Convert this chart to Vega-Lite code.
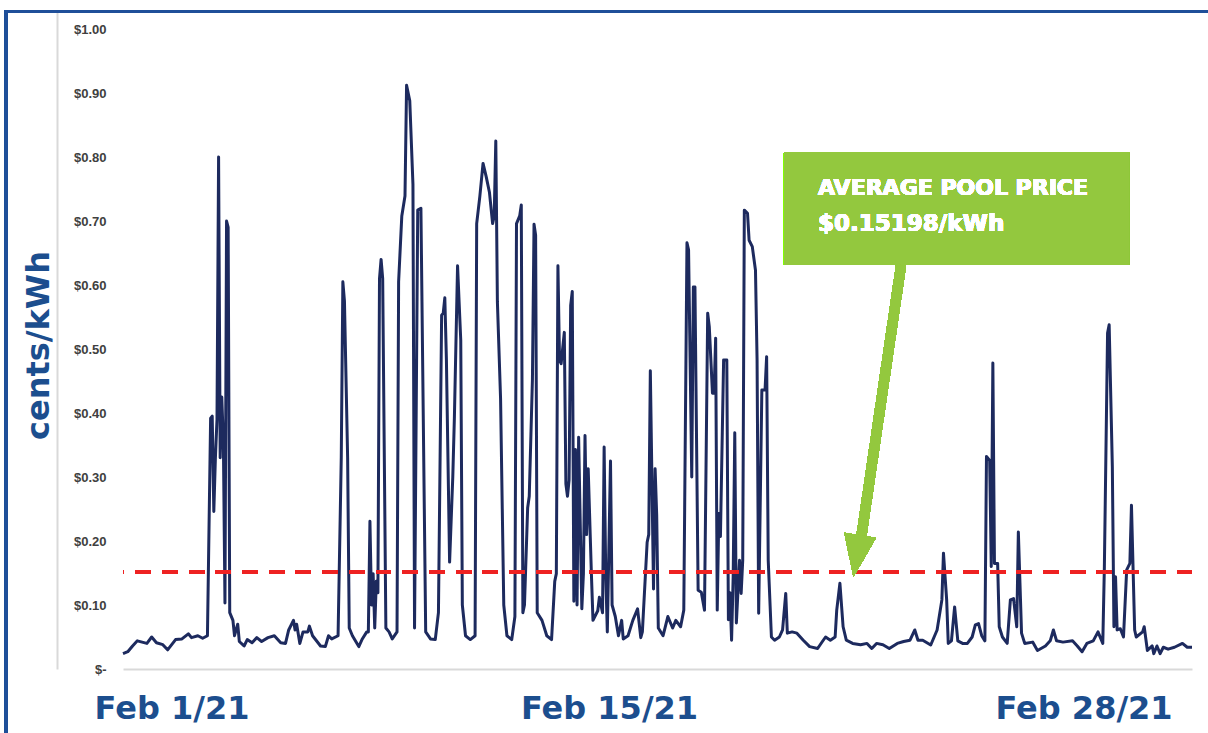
{
  "$schema": "https://vega.github.io/schema/vega-lite/v6.json",
  "width": 1069,
  "height": 657,
  "autosize": {"type": "none"},
  "padding": {"left": 123, "top": 12, "right": 16, "bottom": 64},
  "background": "white",
  "config": {"view": {"stroke": null}, "axis": {"grid": false}},
  "data": {"values": [
    {"t":"2021-02-01T00:00","p":0.024},{"t":"2021-02-01T03:00","p":0.027},{"t":"2021-02-01T06:00","p":0.036},{"t":"2021-02-01T09:00","p":0.044},
    {"t":"2021-02-01T15:00","p":0.040},{"t":"2021-02-01T18:00","p":0.050},{"t":"2021-02-01T21:00","p":0.041},{"t":"2021-02-02T01:00","p":0.038},
    {"t":"2021-02-02T04:00","p":0.030},{"t":"2021-02-02T09:00","p":0.046},{"t":"2021-02-02T13:00","p":0.047},{"t":"2021-02-02T17:00","p":0.055},
    {"t":"2021-02-02T19:00","p":0.049},{"t":"2021-02-02T23:00","p":0.052},{"t":"2021-02-03T02:00","p":0.048},{"t":"2021-02-03T05:00","p":0.052},
    {"t":"2021-02-03T07:00","p":0.392},{"t":"2021-02-03T08:00","p":0.395},{"t":"2021-02-03T09:00","p":0.246},{"t":"2021-02-03T10:00","p":0.33},
    {"t":"2021-02-03T11:00","p":0.39},{"t":"2021-02-03T12:00","p":0.80},{"t":"2021-02-03T13:00","p":0.33},{"t":"2021-02-03T14:00","p":0.425},
    {"t":"2021-02-03T15:00","p":0.355},{"t":"2021-02-03T16:00","p":0.103},{"t":"2021-02-03T17:00","p":0.70},{"t":"2021-02-03T18:00","p":0.69},
    {"t":"2021-02-03T19:00","p":0.088},{"t":"2021-02-03T21:00","p":0.076},{"t":"2021-02-03T22:00","p":0.052},{"t":"2021-02-04T00:00","p":0.07},
    {"t":"2021-02-04T01:00","p":0.043},{"t":"2021-02-04T04:00","p":0.036},{"t":"2021-02-04T06:00","p":0.046},{"t":"2021-02-04T09:00","p":0.041},
    {"t":"2021-02-04T12:00","p":0.049},{"t":"2021-02-04T15:00","p":0.043},{"t":"2021-02-04T19:00","p":0.049},{"t":"2021-02-04T23:00","p":0.052},
    {"t":"2021-02-05T03:00","p":0.041},{"t":"2021-02-05T06:00","p":0.040},{"t":"2021-02-05T08:00","p":0.061},{"t":"2021-02-05T11:00","p":0.076},
    {"t":"2021-02-05T12:00","p":0.061},{"t":"2021-02-05T13:00","p":0.070},{"t":"2021-02-05T15:00","p":0.040},{"t":"2021-02-05T17:00","p":0.058},
    {"t":"2021-02-05T20:00","p":0.058},{"t":"2021-02-05T21:00","p":0.067},{"t":"2021-02-05T23:00","p":0.052},{"t":"2021-02-06T04:00","p":0.036},
    {"t":"2021-02-06T07:00","p":0.035},{"t":"2021-02-06T09:00","p":0.052},{"t":"2021-02-06T11:00","p":0.047},{"t":"2021-02-06T15:00","p":0.052},
    {"t":"2021-02-06T17:00","p":0.33},{"t":"2021-02-06T18:00","p":0.605},{"t":"2021-02-06T19:00","p":0.575},{"t":"2021-02-06T21:00","p":0.33},
    {"t":"2021-02-06T22:00","p":0.064},{"t":"2021-02-07T00:00","p":0.052},{"t":"2021-02-07T04:00","p":0.035},{"t":"2021-02-07T06:00","p":0.046},
    {"t":"2021-02-07T09:00","p":0.058},{"t":"2021-02-07T10:00","p":0.058},{"t":"2021-02-07T11:00","p":0.231},{"t":"2021-02-07T12:00","p":0.10},
    {"t":"2021-02-07T13:00","p":0.149},{"t":"2021-02-07T14:00","p":0.064},{"t":"2021-02-07T15:00","p":0.137},{"t":"2021-02-07T16:00","p":0.119},
    {"t":"2021-02-07T17:00","p":0.61},{"t":"2021-02-07T18:00","p":0.64},{"t":"2021-02-07T19:00","p":0.61},{"t":"2021-02-07T21:00","p":0.064},
    {"t":"2021-02-07T23:00","p":0.058},{"t":"2021-02-08T01:00","p":0.047},{"t":"2021-02-08T04:00","p":0.058},{"t":"2021-02-08T05:00","p":0.605},
    {"t":"2021-02-08T07:00","p":0.708},{"t":"2021-02-08T09:00","p":0.739},{"t":"2021-02-08T10:00","p":0.912},{"t":"2021-02-08T12:00","p":0.888},
    {"t":"2021-02-08T14:00","p":0.757},{"t":"2021-02-08T15:00","p":0.064},{"t":"2021-02-08T17:00","p":0.717},{"t":"2021-02-08T19:00","p":0.72},
    {"t":"2021-02-08T22:00","p":0.058},{"t":"2021-02-09T01:00","p":0.047},{"t":"2021-02-09T04:00","p":0.046},{"t":"2021-02-09T06:00","p":0.088},
    {"t":"2021-02-09T08:00","p":0.553},{"t":"2021-02-09T09:00","p":0.556},{"t":"2021-02-09T10:00","p":0.58},{"t":"2021-02-09T11:00","p":0.483},
    {"t":"2021-02-09T13:00","p":0.167},{"t":"2021-02-09T15:00","p":0.30},{"t":"2021-02-09T16:00","p":0.392},{"t":"2021-02-09T18:00","p":0.63},
    {"t":"2021-02-09T20:00","p":0.514},{"t":"2021-02-09T21:00","p":0.10},{"t":"2021-02-09T23:00","p":0.052},{"t":"2021-02-10T02:00","p":0.046},
    {"t":"2021-02-10T05:00","p":0.052},{"t":"2021-02-10T06:00","p":0.696},{"t":"2021-02-10T08:00","p":0.739},{"t":"2021-02-10T10:00","p":0.79},
    {"t":"2021-02-10T12:00","p":0.769},{"t":"2021-02-10T14:00","p":0.745},{"t":"2021-02-10T16:00","p":0.696},{"t":"2021-02-10T17:00","p":0.708},
    {"t":"2021-02-10T18:00","p":0.825},{"t":"2021-02-10T19:00","p":0.574},{"t":"2021-02-10T21:00","p":0.422},{"t":"2021-02-10T23:00","p":0.10},
    {"t":"2021-02-11T01:00","p":0.052},{"t":"2021-02-11T04:00","p":0.046},{"t":"2021-02-11T06:00","p":0.082},{"t":"2021-02-11T07:00","p":0.696},
    {"t":"2021-02-11T09:00","p":0.708},{"t":"2021-02-11T10:00","p":0.725},{"t":"2021-02-11T11:00","p":0.088},{"t":"2021-02-11T12:00","p":0.10},
    {"t":"2021-02-11T14:00","p":0.252},{"t":"2021-02-11T15:00","p":0.27},{"t":"2021-02-11T17:00","p":0.453},{"t":"2021-02-11T18:00","p":0.695},
    {"t":"2021-02-11T19:00","p":0.678},{"t":"2021-02-11T20:00","p":0.088},{"t":"2021-02-11T23:00","p":0.076},{"t":"2021-02-12T02:00","p":0.052},
    {"t":"2021-02-12T05:00","p":0.046},{"t":"2021-02-12T07:00","p":0.137},{"t":"2021-02-12T08:00","p":0.149},{"t":"2021-02-12T09:00","p":0.63},
    {"t":"2021-02-12T10:00","p":0.483},{"t":"2021-02-12T11:00","p":0.477},{"t":"2021-02-12T13:00","p":0.526},{"t":"2021-02-12T14:00","p":0.289},
    {"t":"2021-02-12T15:00","p":0.27},{"t":"2021-02-12T16:00","p":0.295},{"t":"2021-02-12T17:00","p":0.568},{"t":"2021-02-12T18:00","p":0.59},
    {"t":"2021-02-12T19:00","p":0.106},{"t":"2021-02-12T20:00","p":0.343},{"t":"2021-02-12T21:00","p":0.10},{"t":"2021-02-12T22:00","p":0.362},
    {"t":"2021-02-13T00:00","p":0.094},{"t":"2021-02-13T01:00","p":0.149},{"t":"2021-02-13T02:00","p":0.365},{"t":"2021-02-13T03:00","p":0.21},
    {"t":"2021-02-13T04:00","p":0.313},{"t":"2021-02-13T06:00","p":0.149},{"t":"2021-02-13T07:00","p":0.076},{"t":"2021-02-13T10:00","p":0.091},
    {"t":"2021-02-13T11:00","p":0.112},{"t":"2021-02-13T13:00","p":0.088},{"t":"2021-02-13T14:00","p":0.347},{"t":"2021-02-13T15:00","p":0.149},
    {"t":"2021-02-13T16:00","p":0.058},{"t":"2021-02-13T18:00","p":0.325},{"t":"2021-02-13T19:00","p":0.10},{"t":"2021-02-13T21:00","p":0.082},
    {"t":"2021-02-13T23:00","p":0.052},{"t":"2021-02-14T01:00","p":0.076},{"t":"2021-02-14T02:00","p":0.047},{"t":"2021-02-14T05:00","p":0.052},
    {"t":"2021-02-14T08:00","p":0.076},{"t":"2021-02-14T11:00","p":0.094},{"t":"2021-02-14T13:00","p":0.049},{"t":"2021-02-14T14:00","p":0.058},
    {"t":"2021-02-14T17:00","p":0.198},{"t":"2021-02-14T18:00","p":0.21},{"t":"2021-02-14T19:00","p":0.466},{"t":"2021-02-14T21:00","p":0.125},
    {"t":"2021-02-14T22:00","p":0.313},{"t":"2021-02-14T23:00","p":0.24},{"t":"2021-02-15T00:00","p":0.064},{"t":"2021-02-15T03:00","p":0.052},
    {"t":"2021-02-15T06:00","p":0.082},{"t":"2021-02-15T09:00","p":0.064},{"t":"2021-02-15T11:00","p":0.076},{"t":"2021-02-15T14:00","p":0.066},
    {"t":"2021-02-15T16:00","p":0.092},{"t":"2021-02-15T18:00","p":0.666},{"t":"2021-02-15T19:00","p":0.655},{"t":"2021-02-15T21:00","p":0.30},
    {"t":"2021-02-15T22:00","p":0.597},{"t":"2021-02-15T23:00","p":0.597},{"t":"2021-02-16T01:00","p":0.123},{"t":"2021-02-16T03:00","p":0.12},
    {"t":"2021-02-16T05:00","p":0.092},{"t":"2021-02-16T07:00","p":0.556},{"t":"2021-02-16T08:00","p":0.535},{"t":"2021-02-16T10:00","p":0.431},
    {"t":"2021-02-16T11:00","p":0.431},{"t":"2021-02-16T12:00","p":0.517},{"t":"2021-02-16T13:00","p":0.092},{"t":"2021-02-16T14:00","p":0.243},
    {"t":"2021-02-16T15:00","p":0.207},{"t":"2021-02-16T17:00","p":0.483},{"t":"2021-02-16T19:00","p":0.483},{"t":"2021-02-16T20:00","p":0.077},
    {"t":"2021-02-16T21:00","p":0.119},{"t":"2021-02-16T22:00","p":0.045},{"t":"2021-02-16T23:00","p":0.144},{"t":"2021-02-17T00:00","p":0.369},
    {"t":"2021-02-17T01:00","p":0.072},{"t":"2021-02-17T03:00","p":0.17},{"t":"2021-02-17T04:00","p":0.118},{"t":"2021-02-17T05:00","p":0.17},
    {"t":"2021-02-17T06:00","p":0.717},{"t":"2021-02-17T08:00","p":0.712},{"t":"2021-02-17T09:00","p":0.67},{"t":"2021-02-17T11:00","p":0.66},
    {"t":"2021-02-17T13:00","p":0.623},{"t":"2021-02-17T14:00","p":0.483},{"t":"2021-02-17T15:00","p":0.087},{"t":"2021-02-17T17:00","p":0.436},
    {"t":"2021-02-17T19:00","p":0.436},{"t":"2021-02-17T20:00","p":0.488},{"t":"2021-02-17T21:00","p":0.17},{"t":"2021-02-17T23:00","p":0.05},
    {"t":"2021-02-18T01:00","p":0.045},{"t":"2021-02-18T04:00","p":0.05},{"t":"2021-02-18T06:00","p":0.061},{"t":"2021-02-18T08:00","p":0.118},
    {"t":"2021-02-18T09:00","p":0.056},{"t":"2021-02-18T12:00","p":0.058},{"t":"2021-02-18T15:00","p":0.056},{"t":"2021-02-18T19:00","p":0.045},
    {"t":"2021-02-18T23:00","p":0.035},{"t":"2021-02-19T04:00","p":0.032},{"t":"2021-02-19T07:00","p":0.043},{"t":"2021-02-19T09:00","p":0.05},
    {"t":"2021-02-19T12:00","p":0.045},{"t":"2021-02-19T15:00","p":0.05},{"t":"2021-02-19T16:00","p":0.092},{"t":"2021-02-19T18:00","p":0.134},
    {"t":"2021-02-19T20:00","p":0.066},{"t":"2021-02-19T22:00","p":0.045},{"t":"2021-02-20T02:00","p":0.04},{"t":"2021-02-20T07:00","p":0.038},
    {"t":"2021-02-20T11:00","p":0.04},{"t":"2021-02-20T14:00","p":0.032},{"t":"2021-02-20T17:00","p":0.04},{"t":"2021-02-20T21:00","p":0.038},
    {"t":"2021-02-21T01:00","p":0.032},{"t":"2021-02-21T06:00","p":0.04},{"t":"2021-02-21T10:00","p":0.043},{"t":"2021-02-21T14:00","p":0.045},
    {"t":"2021-02-21T17:00","p":0.061},{"t":"2021-02-21T19:00","p":0.045},{"t":"2021-02-21T22:00","p":0.045},{"t":"2021-02-22T03:00","p":0.0375},
    {"t":"2021-02-22T07:00","p":0.061},{"t":"2021-02-22T10:00","p":0.108},{"t":"2021-02-22T11:00","p":0.181},{"t":"2021-02-22T13:00","p":0.108},
    {"t":"2021-02-22T14:00","p":0.04},{"t":"2021-02-22T16:00","p":0.044},{"t":"2021-02-22T18:00","p":0.097},{"t":"2021-02-22T20:00","p":0.044},
    {"t":"2021-02-22T23:00","p":0.04},{"t":"2021-02-23T02:00","p":0.04},{"t":"2021-02-23T05:00","p":0.05},{"t":"2021-02-23T07:00","p":0.069},
    {"t":"2021-02-23T09:00","p":0.071},{"t":"2021-02-23T11:00","p":0.052},{"t":"2021-02-23T13:00","p":0.044},{"t":"2021-02-23T14:00","p":0.332},
    {"t":"2021-02-23T16:00","p":0.326},{"t":"2021-02-23T17:00","p":0.16},{"t":"2021-02-23T18:00","p":0.478},{"t":"2021-02-23T19:00","p":0.165},
    {"t":"2021-02-23T21:00","p":0.165},{"t":"2021-02-23T22:00","p":0.066},{"t":"2021-02-24T00:00","p":0.05},{"t":"2021-02-24T03:00","p":0.04},
    {"t":"2021-02-24T05:00","p":0.108},{"t":"2021-02-24T07:00","p":0.11},{"t":"2021-02-24T09:00","p":0.066},{"t":"2021-02-24T10:00","p":0.214},
    {"t":"2021-02-24T12:00","p":0.056},{"t":"2021-02-24T14:00","p":0.04},{"t":"2021-02-24T19:00","p":0.042},{"t":"2021-02-24T22:00","p":0.029},
    {"t":"2021-02-25T03:00","p":0.036},{"t":"2021-02-25T06:00","p":0.044},{"t":"2021-02-25T08:00","p":0.061},{"t":"2021-02-25T10:00","p":0.044},
    {"t":"2021-02-25T14:00","p":0.042},{"t":"2021-02-25T20:00","p":0.044},{"t":"2021-02-25T23:00","p":0.036},{"t":"2021-02-26T02:00","p":0.027},
    {"t":"2021-02-26T05:00","p":0.04},{"t":"2021-02-26T09:00","p":0.044},{"t":"2021-02-26T12:00","p":0.058},{"t":"2021-02-26T15:00","p":0.04},
    {"t":"2021-02-26T16:00","p":0.16},{"t":"2021-02-26T18:00","p":0.525},{"t":"2021-02-26T19:00","p":0.538},{"t":"2021-02-26T21:00","p":0.316},
    {"t":"2021-02-26T22:00","p":0.066},{"t":"2021-02-26T23:00","p":0.144},{"t":"2021-02-27T00:00","p":0.061},{"t":"2021-02-27T02:00","p":0.063},
    {"t":"2021-02-27T04:00","p":0.05},{"t":"2021-02-27T06:00","p":0.155},{"t":"2021-02-27T08:00","p":0.165},{"t":"2021-02-27T09:00","p":0.256},
    {"t":"2021-02-27T11:00","p":0.061},{"t":"2021-02-27T12:00","p":0.05},{"t":"2021-02-27T16:00","p":0.058},{"t":"2021-02-27T17:00","p":0.066},
    {"t":"2021-02-27T19:00","p":0.029},{"t":"2021-02-27T22:00","p":0.036},{"t":"2021-02-27T23:00","p":0.024},{"t":"2021-02-28T01:00","p":0.036},
    {"t":"2021-02-28T03:00","p":0.024},{"t":"2021-02-28T05:00","p":0.034},{"t":"2021-02-28T08:00","p":0.031},{"t":"2021-02-28T12:00","p":0.034},
    {"t":"2021-02-28T17:00","p":0.04},{"t":"2021-02-28T20:00","p":0.034},{"t":"2021-02-28T23:00","p":0.034}
  ]},
  "layer": [
    {
      "mark": {"type": "line", "color": "#1d2a5e", "strokeWidth": 3, "strokeJoin": "round"},
      "encoding": {
        "x": {
          "field": "t", "type": "temporal",
          "scale": {"domain": [{"year": 2021, "month": 2, "date": 1, "hours": 0}, {"year": 2021, "month": 2, "date": 28, "hours": 23}], "nice": false},
          "axis": {
            "title": null,
            "values": [
              {"year": 2021, "month": 2, "date": 2, "hours": 6, "minutes": 27},
              {"year": 2021, "month": 2, "date": 13, "hours": 17, "minutes": 6},
              {"year": 2021, "month": 2, "date": 26, "hours": 2, "minutes": 57}
            ],
            "labelExpr": "date(datum.value) == 2 ? 'Feb 1/21' : date(datum.value) == 13 ? 'Feb 15/21' : 'Feb 28/21'",
            "domain": true, "domainColor": "#d9d9d9", "domainWidth": 2,
            "ticks": false, "tickSize": 0, "grid": false,
            "labelFont": "DejaVu Sans", "labelFontWeight": "bold", "labelFontSize": 32, "labelColor": "#1c4e8e",
            "labelPadding": 24, "labelFlush": false, "labelOverlap": false, "labelBound": false
          }
        },
        "y": {
          "field": "p", "type": "quantitative",
          "scale": {"domain": [0, 1.0266], "nice": false, "zero": true},
          "axis": {
            "title": "cents/kWh",
            "offset": 66,
            "values": [0, 0.1, 0.2, 0.3, 0.4, 0.5, 0.6, 0.7, 0.8, 0.9, 1.0],
            "labelExpr": "datum.value == 0 ? '$-' : '$' + format(datum.value, '.2f')",
            "domain": true, "domainColor": "#d9d9d9", "domainWidth": 2,
            "ticks": false, "tickSize": 0, "grid": false,
            "labelFont": "Liberation Sans", "labelFontWeight": "bold", "labelFontSize": 13, "labelColor": "#404040",
            "labelAlign": "right", "labelBaseline": "middle", "labelPadding": -49, "labelOverlap": false, "labelFlush": false, "labelBound": false,
            "titleFont": "DejaVu Sans", "titleFontWeight": "bold", "titleFontSize": 32, "titleColor": "#1c4e8e",
            "titleAngle": -90, "titleX": -19, "titleY": 333, "titleAlign": "center", "titleBaseline": "middle"
          }
        }
      }
    },
    {
      "mark": {"type": "rule", "color": "#ee2222", "strokeWidth": 3.5, "strokeDash": [15, 11.7]},
      "encoding": {"y": {"datum": 0.15198}}
    },
    {
      "mark": {"type": "rect", "color": "#93c83e"},
      "encoding": {
        "x": {"datum": {"year": 2021, "month": 2, "date": 18, "hours": 6, "minutes": 54}, "type": "temporal"},
        "x2": {"datum": {"year": 2021, "month": 2, "date": 27, "hours": 7, "minutes": 30}},
        "y": {"datum": 0.8073},
        "y2": {"datum": 0.63125}
      }
    },
    {
      "mark": {"type": "text", "text": "AVERAGE POOL PRICE", "align": "left", "baseline": "alphabetic", "font": "DejaVu Sans", "fontWeight": "bold", "fontSize": 22, "color": "white"},
      "encoding": {
        "x": {"datum": {"year": 2021, "month": 2, "date": 19, "hours": 4, "minutes": 18}, "type": "temporal"},
        "y": {"datum": 0.7406}
      }
    },
    {
      "mark": {"type": "text", "text": "$0.15198/kWh", "align": "left", "baseline": "alphabetic", "font": "DejaVu Sans", "fontWeight": "bold", "fontSize": 23, "color": "white"},
      "encoding": {
        "x": {"datum": {"year": 2021, "month": 2, "date": 19, "hours": 4, "minutes": 18}, "type": "temporal"},
        "y": {"datum": 0.6844}
      }
    },
    {
      "mark": {"type": "rule", "color": "#93c83e", "strokeWidth": 10, "strokeCap": "butt"},
      "encoding": {
        "x": {"datum": {"year": 2021, "month": 2, "date": 21, "hours": 8, "minutes": 24}, "type": "temporal"},
        "x2": {"datum": {"year": 2021, "month": 2, "date": 20, "hours": 6, "minutes": 42}},
        "y": {"datum": 0.63125},
        "y2": {"datum": 0.194}
      }
    },
    {
      "mark": {"type": "point", "shape": "M -0.76 -1 L 0.76 -1 L 0 1 Z", "filled": true, "color": "#93c83e", "opacity": 1, "size": 1764, "angle": 9, "strokeWidth": 0},
      "encoding": {
        "x": {"datum": {"year": 2021, "month": 2, "date": 20, "hours": 4, "minutes": 36}, "type": "temporal"},
        "y": {"datum": 0.1766}
      }
    },
    {
      "mark": {"type": "rule", "color": "#1f4f99", "strokeWidth": 3},
      "encoding": {
        "x": {"datum": {"year": 2021, "month": 1, "date": 28, "hours": 21, "minutes": 36}, "type": "temporal"},
        "x2": {"datum": {"year": 2021, "month": 3, "date": 1, "hours": 10, "minutes": 24}},
        "y": {"datum": 1.0273}
      }
    },
    {
      "mark": {"type": "rule", "color": "#1f4f99", "strokeWidth": 3},
      "encoding": {
        "x": {"datum": {"year": 2021, "month": 1, "date": 28, "hours": 22, "minutes": 42}, "type": "temporal"},
        "y": {"datum": 1.0297},
        "y2": {"datum": -0.103}
      }
    }
  ]
}
